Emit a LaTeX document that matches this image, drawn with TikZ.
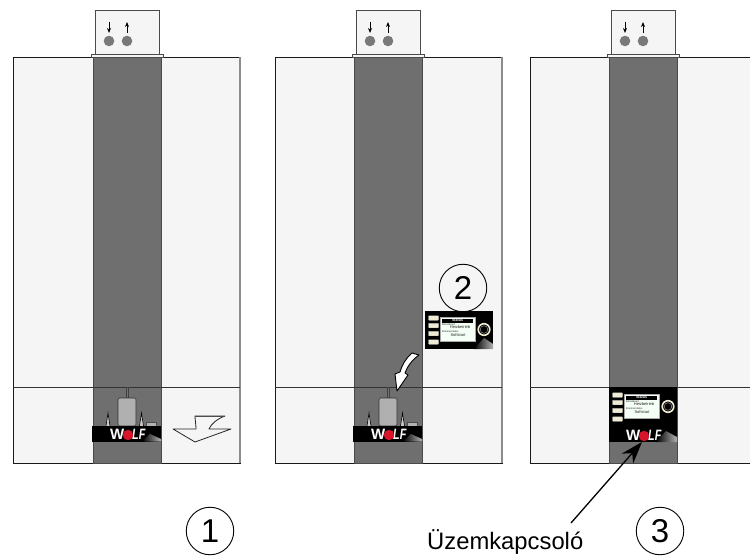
\documentclass[tikz,border=0pt]{standalone}
\usepackage{fontspec}
\setmainfont{Liberation Sans}
\usetikzlibrary{arrows.meta}
\definecolor{bodyfill}{HTML}{F5F5F5}
\definecolor{bandfill}{HTML}{6F6F6F}
\definecolor{edgegray}{HTML}{4A4A4A}
\definecolor{wolfred}{HTML}{D8132A}
\definecolor{cream}{HTML}{EFEAD2}
\tikzset{
  unitbody/.style={draw=black!90,line width=.9pt,fill=bodyfill},
  sideedge/.style={draw=gray!90,line width=1.6pt},
  divider/.style={draw=black!80,line width=.7pt},
  band/.style={draw=edgegray,line width=1pt,fill=bandfill},
  topbox/.style={draw=edgegray,line width=1pt,fill=bodyfill},
  port/.style={circle,fill=gray!95!black,inner sep=0pt,minimum size=10.6pt},
  numcircle/.style={circle,draw=black,line width=.9pt,minimum size=47.5pt,inner sep=0pt,font=\fontsize{33}{33}\selectfont},
  flowarrow/.style={-{Stealth[length=5pt,width=4pt]},line width=1pt},
  cyl/.style={draw=black!80,line width=.7pt,fill=gray!62,rounded corners=1.5pt},
  softkey/.style={fill=cream,draw=gray!50,line width=.3pt,minimum width=10pt,minimum height=4.5pt,inner sep=0pt,rounded corners=.6pt},
  disp/.style={fill=green!4!white,draw=gray!70,line width=.7pt},
  tiny/.style={inner sep=0pt,text=black!85}
}
\newcommand{\unitshape}[4]{% #1 left, #2 band left, #3 right, #4 divider y
  \path[unitbody] (#1,57) rectangle (#3,463);
  \path[sideedge] (#3,57) -- (#3,463);
  \path[topbox] (#2+2,11) rectangle (#2+66,55);
  \path[band] (#2,57) rectangle (#2+68,463);
  \path[topbox] (#2-2,55) rectangle (#2+70,58);
  \draw[divider] (#1,#4) -- (#3,#4);
  \node[port] (pa#2) at (#2+16,41) {};
  \node[port] (pb#2) at (#2+34,41) {};
  \coordinate (ta#2) at (#2+16,22);
  \coordinate (tb#2) at (#2+34,22);
  \draw[flowarrow,shorten >=2.5pt] (ta#2) -- (pa#2.north);
  \draw[flowarrow,shorten <=2.5pt] (pb#2.north) -- (tb#2);
}
\newcommand{\wolflogo}[2]{% #1 circle x, #2 circle y
  \node[inner sep=0pt,anchor=east,text=white,font=\fontsize{15}{15}\bfseries\selectfont] at (#1-3.5,#2-1) {W};
  \node[inner sep=0pt,anchor=west,text=white,font=\fontsize{15}{15}\bfseries\itshape\selectfont] at (#1+4,#2-1) {\scalebox{.72}[1]{LF}};
  \fill[wolfred] (#1,#2) circle (5.2pt);
}
\newcommand{\wolfband}[2]{% #1 left x, #2 top y
  \fill[black] (#1,#2) rectangle (#1+69,#2+15.5);
  \shade[left color=black,right color=gray!60] (#1+50,#2+15.5) -- (#1+58,#2+8) -- (#1+69,#2+13) -- (#1+69,#2+15.5) -- cycle;
  \wolflogo{#1+36}{#2+9}
}
\newcommand{\burner}[1]{% #1 band left
  \path[draw=black!75,fill=black!55,line width=.4pt] (#1+33,387) rectangle (#1+35.5,398);
  \path[cyl] (#1+25,426) -- (#1+25,398) -- (#1+43,398) -- (#1+43,426) -- cycle;
  \draw[black,line width=.6pt,fill=gray!40] (#1+13,426) -- (#1+15,413) -- (#1+17,426);
  \draw[black,line width=.6pt,fill=gray!40] (#1+46.5,426) -- (#1+48.5,413) -- (#1+50.5,426);
  \path[draw=black!70,fill=gray!60,line width=.5pt] (#1+53,426) rectangle (#1+63,422);
}
\newcommand{\panelctl}[2]{% #1 left x of display, #2 top y of display
  \node[softkey] at (#1-6.5,#2+1) {};
  \node[softkey] at (#1-6.5,#2+8.5) {};
  \node[softkey] at (#1-6.5,#2+16.5) {};
  \node[softkey] at (#1-6.5,#2+25) {};
  \path[disp] (#1,#2) rectangle (#1+35,#2+24.5);
  \fill[black] (#1+2,#2+1.5) rectangle (#1+33,#2+5.5);
  \node[tiny,text=white,font=\fontsize{3.6}{4}\bfseries\selectfont] at (#1+17.5,#2+3.5) {Status};
  \node[tiny,anchor=west,font=\fontsize{2.6}{3}\selectfont] at (#1+2,#2+7.5) {Betriebsart};
  \node[tiny,font=\fontsize{4}{4}\selectfont] at (#1+20,#2+10.5) {Heizbetrieb};
  \node[tiny,anchor=west,font=\fontsize{2.6}{3}\selectfont] at (#1+2,#2+14.5) {Brennerstatus};
  \node[tiny,font=\fontsize{4}{4}\selectfont] at (#1+18,#2+18) {Softstart};
  \draw[cream,line width=1.6pt,fill=black] (#1+44,#2+12.5) circle (5.8pt);
  \draw[gray!60,line width=.4pt] (#1+44,#2+12.5) circle (3.8pt);
}
\begin{document}
\begin{tikzpicture}[x=1pt,y=-1pt]
\useasboundingbox (0,0) rectangle (750,556);
\clip (0,0) rectangle (750,556);
\fill[white] (0,0) rectangle (750,556);
% panel 1
\unitshape{13}{93}{240}{387}
\burner{93}
\wolfband{92}{426}
\draw[draw=black!85,fill=bodyfill,line width=.8pt,line join=round]
  (195,416) -- (225,416) .. controls (217,419) and (211,424) .. (209,429)
  -- (231,429) -- (195,442) -- (173,429) -- (196,429) .. controls (196,424) and (195,420) .. (195,416) -- cycle;
\draw[gray!60!black,line width=1pt] (195,416) -- (225,416);
\node[numcircle] (n1) at (210,531) {1};
% panel 2
\unitshape{275}{354}{502}{387}
\burner{354}
\wolfband{353}{426}
\fill[black] (425,311) rectangle (493,349);
\shade[left color=black,right color=gray!60] (474,349) -- (484,338) -- (493,344) -- (493,349) -- cycle;
\panelctl{440}{317}
\node[numcircle] (n2) at (463,288) {2};
\draw[draw=black,fill=white,line width=.9pt,line join=round]
  (412,353) -- (419,355) .. controls (412,360) and (407,367) .. (405,373)
  -- (408,375) -- (397,391) -- (395,374) -- (400,372)
  .. controls (402,365) and (406,358) .. (412,353) -- cycle;
% panel 3
\unitshape{530}{609}{760}{387}
\fill[black] (609,387) rectangle (677,442);
\shade[left color=black,right color=gray!60] (656,442) -- (666,431) -- (677,437) -- (677,442) -- cycle;
\panelctl{624}{394}
\wolflogo{644}{436}
\node[numcircle] (n3) at (660,531) {3};
\node[inner sep=0pt,anchor=base west,font=\fontsize{23.8}{24}\selectfont] (lbl) at (427,549) {Üzemkapcsoló};
\coordinate (tip) at (642,442);
\coordinate (tail) at (571,523);
\draw[-{Stealth[length=22pt,width=15pt]},line width=1.3pt] (tail) -- (tip);
\end{tikzpicture}
\end{document}
